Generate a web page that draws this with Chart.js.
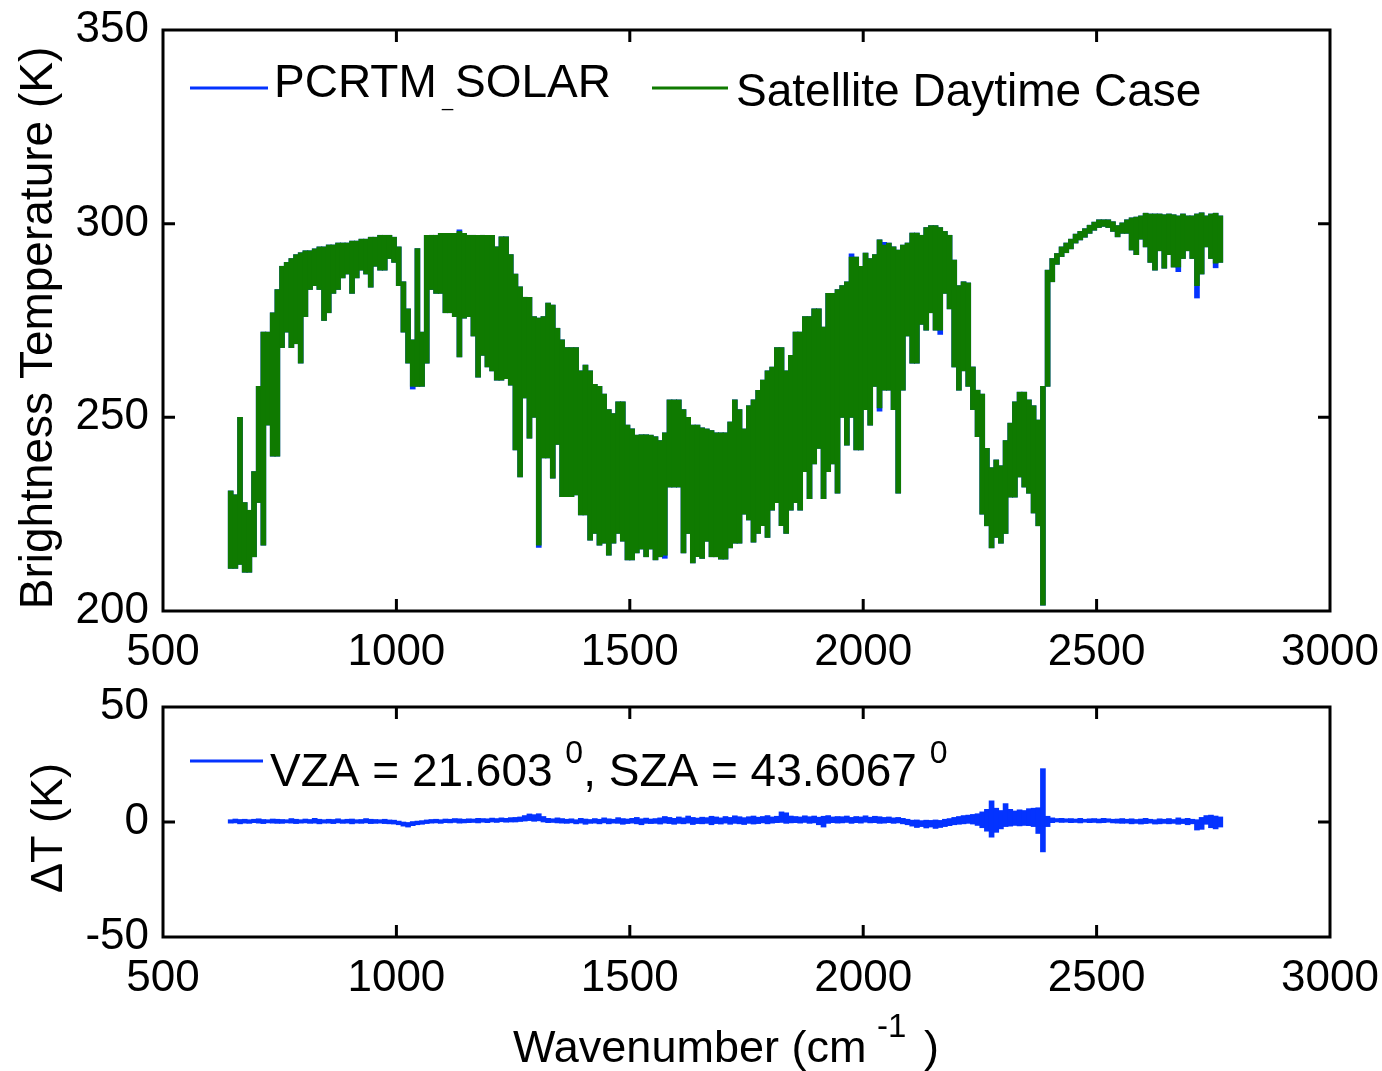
<!DOCTYPE html>
<html><head><meta charset="utf-8">
<script src="https://cdn.jsdelivr.net/npm/chart.js@4.4.1/dist/chart.umd.min.js"></script>
<style>
html,body{margin:0;padding:0;background:#fff;}
#wrap{position:relative;width:1382px;height:1071px;overflow:hidden;background:#fff;}
canvas{position:absolute;left:0;}
</style></head><body>
<div id="wrap">
<canvas id="topChart" width="1382" height="690" style="top:0;width:1382px;height:690px"></canvas>
<canvas id="botChart" width="1382" height="401" style="top:670px;width:1382px;height:401px"></canvas>
</div>
<script>
// ---------- DATA ----------
const wavenumber = [
645,655,665,675,685,695,705,715,725,735,
745,755,765,775,785,795,805,815,825,835,
845,855,865,875,885,895,905,915,925,935,
945,955,965,975,985,995,1005,1015,1025,1035,
1045,1055,1065,1075,1085,1095,1105,1115,1125,1135,
1145,1155,1165,1175,1185,1195,1205,1215,1225,1235,
1245,1255,1265,1275,1285,1295,1305,1315,1325,1335,
1345,1355,1365,1375,1385,1395,1405,1415,1425,1435,
1445,1455,1465,1475,1485,1495,1505,1515,1525,1535,
1545,1555,1565,1575,1585,1595,1605,1615,1625,1635,
1645,1655,1665,1675,1685,1695,1705,1715,1725,1735,
1745,1755,1765,1775,1785,1795,1805,1815,1825,1835,
1845,1855,1865,1875,1885,1895,1905,1915,1925,1935,
1945,1955,1965,1975,1985,1995,2005,2015,2025,2035,
2045,2055,2065,2075,2085,2095,2105,2115,2125,2135,
2145,2155,2165,2175,2185,2195,2205,2215,2225,2235,
2245,2255,2265,2275,2285,2295,2305,2315,2325,2335,
2345,2355,2365,2375,2385,2395,2405,2415,2425,2435,
2445,2455,2465,2475,2485,2495,2505,2515,2525,2535,
2545,2555,2565,2575,2585,2595,2605,2615,2625,2635,
2645,2655,2665,2675,2685,2695,2705,2715,2725,2735,
2745,2755,2765];

// Satellite daytime brightness temperature (K): upper / lower edge per 10 cm-1 bin
const satelliteHi = [
231,230,250,228,226,236,258,272,272,277,
283,289,290,291,292,292.5,293,293,293.5,294,
294,294.5,294.5,295,295,295,295.5,295.5,296,296,
296.5,296.5,297,297,297,296.5,294,285,278,270,
293.6,272,297,297,297,297.5,297.5,297.5,297.5,298,
297.5,297,297,297,297,297,297,294,296.6,296.6,
292,287,283.7,281,281,276,275.6,276,279.5,279,
273,270,268,268,268,262,263.5,262,258.5,258,
256,252,251,254,254,248,247,245.4,245.5,245.5,
245.4,245,244,246,254.5,254.5,254.5,252,250,248,
248,247.3,247,246.6,246,246,246,248.8,254.5,252,
247,253,254.5,257,259.6,262,263,268,268,262,
266,272,272,276,276,278,278,273.3,282,282,
283,284,285,291.4,291.4,289,292.4,291,292,295.8,
294.5,295,294,293.2,294.5,295,297.6,297.6,297,299,
299.5,299.5,299,298,297,290.6,284,285,284.7,263,
257,256,242,237,239,237.5,244,248.5,254,256.5,
256.5,254.5,253,249.3,258,288,291,292.3,294,295,
296,297.3,298,298.7,299.6,300.4,301,301,301,300.5,
299.5,300.2,301,301.5,301.7,302,302.7,302.5,302.5,302.5,
302.3,302.5,302.3,302,302.5,302,302,302.5,302.8,302,
302.5,302.7,302];
const satelliteLo = [
211,211,212,210,210,214,228,217,248,240,
240,268,272,268,269,264,276,283,284,283,
275,277,282,283,286,287,282,286,288,287,
283.6,289,288,288,291,290,284,272,264,258,
258,258,264,283,282,282,277,277,276,265.6,
275.6,276,271,260.4,266,263,262,259.6,259.6,260,
258.3,241.6,234.6,255,244.6,250,217,239.5,239.5,234.3,
243,229.5,229.5,229.5,230,224.8,224.8,218.3,220,217,
217.5,214.4,217.5,220,218,213.2,213.2,215,216,214,
216,213.2,214,214.4,232,232,232,215,220,212.4,
214,213.6,218,214,214,213.4,213.4,216.3,217.5,217.5,
225,223.5,217.8,220,222,219,226,228,222,220,
226,228,226,236,229,238,242,229,236,238,
230.4,250,242.8,250,241.6,241.6,252,248,258,252.4,
257,257,252,230.4,257,271,264,264,274,272.5,
277,272.5,272.5,282,278,263,257,262,258,252,
245,225,222,216.3,219,217.5,220,229.4,229.4,234.6,
232,230.4,225.3,222,201.5,258,285,289.5,291.5,292.5,
293.5,295,295.8,296.5,297.5,298.3,299,299.3,299,298,
296.6,297.5,297.5,293.2,292,296,294,290,288,293,
288.5,292,288.8,288.8,291,293,291,284,287,294,
291,289.8,290];

// PCRTM_SOLAR follows the satellite curve except where it shows beyond it: [wavenumber, value]
const pcrtmLowerPoints = [[1035,257.3],[1305,216.4],[1575,213.6],[2035,251.6],[2165,271.4],[2675,287.6],[2715,280.8],[2755,288.6]];
const pcrtmUpperPoints = [[1975,292.2],[2045,295.2],[1135,298.4]];

// Delta T (K): upper / lower edge per bin
const deltaHi = [
1.0,1.3,1.1,1.2,1.0,1.2,1.4,1.1,1.0,1.3,
1.2,1.1,1.0,1.5,1.2,1.0,1.3,1.1,1.6,1.2,
1.0,1.2,1.1,1.4,1.0,1.2,1.3,1.0,1.1,1.5,
1.2,1.1,1.0,1.2,0.9,0.8,0.4,0.0,-0.2,0.2,
0.4,0.6,0.9,1.1,1.2,1.0,1.3,1.2,1.5,1.4,
1.2,1.4,1.3,1.6,1.5,1.4,1.7,1.5,1.8,1.6,
1.9,2.0,2.2,2.8,3.5,3.2,3.6,2.4,1.6,1.4,
1.8,1.5,1.2,1.4,1.0,1.6,1.3,1.1,1.5,1.2,
1.8,1.4,1.2,1.9,1.5,1.3,1.6,2.0,1.4,1.7,
1.3,1.5,1.8,2.4,2.0,1.6,2.2,1.8,2.6,2.0,
1.7,2.1,1.9,2.5,2.2,1.8,2.4,2.0,2.7,2.3,
1.9,2.3,2.6,2.1,2.4,2.8,2.2,2.5,4.4,4.0,
2.6,2.4,2.2,2.7,2.3,2.6,2.1,2.5,2.8,2.2,
2.4,2.3,2.6,2.0,2.4,2.2,2.7,2.1,2.5,2.3,
2.0,2.2,1.8,2.0,1.6,1.2,0.8,0.9,0.6,0.8,
0.7,0.9,0.7,1.2,1.5,2.0,2.4,2.8,3.0,3.3,
3.6,4.4,5.5,9.2,6.0,5.0,8.0,5.5,4.8,5.3,
5.0,5.8,6.0,6.2,23.2,2.5,1.8,1.5,1.6,1.4,
1.5,1.3,1.6,1.2,1.4,1.5,1.3,1.6,1.4,1.2,
1.3,1.5,1.2,1.4,1.1,1.3,1.6,1.2,1.0,1.4,
1.2,1.5,1.1,1.8,1.3,1.6,1.2,1.0,2.0,2.8,
3.0,2.6,2.2];
const deltaLo = [
-0.5,-0.4,-0.8,-0.5,-0.6,-0.3,-0.5,-0.7,-0.4,-0.5,
-0.6,-0.6,-0.4,-0.5,-0.7,-0.5,-0.4,-0.6,-0.5,-0.8,
-0.5,-0.5,-0.7,-0.4,-0.6,-0.5,-0.8,-0.5,-0.6,-0.4,
-0.7,-0.6,-0.5,-0.7,-0.8,-0.9,-1.2,-1.8,-2.2,-1.6,
-1.2,-1.0,-0.7,-0.5,-0.4,-0.6,-0.3,-0.4,-0.2,-0.5,
-0.4,-0.3,-0.2,-0.4,-0.1,-0.3,0.0,-0.2,0.1,-0.1,
0.0,0.0,0.2,0.4,0.6,0.3,0.5,0.0,-0.3,-0.2,
-0.4,-0.5,-0.6,-0.4,-0.8,-0.5,-1.0,-0.6,-0.5,-0.8,
-0.4,-0.8,-0.5,-0.6,-1.0,-0.7,-0.5,-0.8,-1.2,-0.6,
-0.7,-0.6,-0.9,-0.5,-0.7,-1.0,-0.6,-0.8,-0.5,-1.1,
-0.7,-0.8,-0.6,-1.2,-0.7,-0.9,-0.5,-1.0,-0.6,-0.8,
-1.1,-0.6,-0.9,-0.7,-0.4,-0.8,-0.5,-0.3,-0.2,-0.6,
-0.4,-0.3,-0.5,-0.2,-0.6,-0.4,-1.2,-2.2,-0.6,-0.3,
-0.5,-0.4,-0.2,-0.6,-0.3,-0.5,-0.1,-0.4,-0.3,-0.6,
-0.5,-0.3,-0.6,-0.4,-0.8,-1.2,-1.8,-2.4,-2.0,-2.6,
-2.2,-2.8,-2.4,-2.0,-1.6,-1.2,-1.0,-0.8,-0.6,-0.9,
-1.5,-2.5,-4.0,-6.6,-4.5,-3.0,-2.0,-1.8,-1.5,-1.7,
-1.5,-1.6,-2.0,-5.0,-13.0,-2.0,-0.3,0.0,-0.2,-0.1,
-0.3,-0.2,-0.4,-0.1,-0.3,-0.2,-0.4,-0.3,-0.1,-0.4,
-0.5,-0.6,-0.5,-0.8,-0.6,-0.9,-0.7,-0.5,-0.9,-0.8,
-0.6,-0.8,-0.6,-1.0,-0.7,-1.2,-0.8,-3.5,-3.2,-1.0,
-2.5,-3.0,-2.2];

const xTicks = [500,1000,1500,2000,2500,3000];
const btTicks = [200,250,300,350];
const dtTicks = [-50,0,50];
const seriesNames = ['PCRTM_SOLAR','Satellite Daytime Case'];
const angleText = {vza:'21.603', sza:'43.6067'};

// ---------- STYLE ----------
const BLUE = '#0433ff';
const GREEN = '#0f7a00';
const FONT = '"Liberation Sans", Arial, Helvetica, sans-serif';
const f = (s) => s + 'px ' + FONT;

// build PCRTM series
const pcrtmLo = satelliteLo.slice();
const pcrtmHi = satelliteHi.slice();
pcrtmLowerPoints.forEach(([x,v]) => { const i = wavenumber.indexOf(x); if (i >= 0) pcrtmLo[i] = v; });
pcrtmUpperPoints.forEach(([x,v]) => { const i = wavenumber.indexOf(x); if (i >= 0) pcrtmHi[i] = v; });

// ---------- PLUGINS ----------
const framePlugin = {
  id: 'frame',
  afterDatasetsDraw(chart) {
    const {ctx, chartArea: a, scales: {x, y}} = chart;
    ctx.save();
    ctx.strokeStyle = '#000';
    ctx.lineWidth = 3;
    ctx.lineCap = 'butt';
    ctx.beginPath();
    const L = 12;
    x.ticks.forEach(t => {
      const p = x.getPixelForValue(t.value);
      if (p <= a.left + 2 || p >= a.right - 2) return;
      ctx.moveTo(p, a.bottom); ctx.lineTo(p, a.bottom - L);
      ctx.moveTo(p, a.top); ctx.lineTo(p, a.top + L);
    });
    y.ticks.forEach(t => {
      const p = y.getPixelForValue(t.value);
      if (p <= a.top + 2 || p >= a.bottom - 2) return;
      ctx.moveTo(a.left, p); ctx.lineTo(a.left + L, p);
      ctx.moveTo(a.right, p); ctx.lineTo(a.right - L, p);
    });
    ctx.stroke();
    ctx.lineJoin = 'miter';
    ctx.strokeRect(a.left, a.top, a.right - a.left, a.bottom - a.top);
    ctx.restore();
  }
};

function runs(ctx, x, list) {
  list.forEach(r => {
    ctx.font = r.font;
    if (r.at !== undefined) x = r.at;
    ctx.fillText(r.text, x, r.y);
    x += ctx.measureText(r.text).width;
  });
}

const topText = {
  id: 'topText',
  afterDraw(chart) {
    const ctx = chart.ctx;
    ctx.save();
    ctx.fillStyle = '#000';
    ctx.textBaseline = 'alphabetic';
    // y title
    ctx.save();
    ctx.translate(52, 328);
    ctx.rotate(-Math.PI / 2);
    ctx.textAlign = 'center';
    ctx.font = f(46);
    ctx.fillText('Brightness Temperature (K)', 0, 0);
    ctx.restore();
    // legend
    ctx.lineWidth = 3;
    ctx.strokeStyle = BLUE;
    ctx.beginPath(); ctx.moveTo(190, 88); ctx.lineTo(268, 88); ctx.stroke();
    ctx.strokeStyle = GREEN;
    ctx.beginPath(); ctx.moveTo(652, 88); ctx.lineTo(728, 88); ctx.stroke();
    ctx.textAlign = 'left';
    const parts = seriesNames[0].split('_');
    runs(ctx, 274, [
      {text: parts[0], font: f(46), y: 97},
      {text: '_', font: f(20), y: 106, at: 442},
      {text: parts[1], font: f(46), y: 97, at: 455}
    ]);
    ctx.font = f(46);
    ctx.fillText(seriesNames[1], 736, 106);
    ctx.restore();
  }
};

const OFF = 670; // page y of bottom canvas
const botText = {
  id: 'botText',
  afterDraw(chart) {
    const ctx = chart.ctx;
    ctx.save();
    ctx.fillStyle = '#000';
    ctx.textBaseline = 'alphabetic';
    ctx.save();
    ctx.translate(62, 828 - OFF);
    ctx.rotate(-Math.PI / 2);
    ctx.textAlign = 'center';
    ctx.font = f(45);
    ctx.fillText('\u0394T (K)', 0, 0);
    ctx.restore();
    // legend
    ctx.lineWidth = 3;
    ctx.strokeStyle = BLUE;
    ctx.beginPath(); ctx.moveTo(190, 761 - OFF); ctx.lineTo(263, 761 - OFF); ctx.stroke();
    ctx.textAlign = 'left';
    runs(ctx, 270, [
      {text: 'VZA = ' + angleText.vza + ' ', font: f(46), y: 786 - OFF},
      {text: '0', font: f(32), y: 763 - OFF},
      {text: ', SZA = ' + angleText.sza + ' ', font: f(46), y: 786 - OFF},
      {text: '0', font: f(32), y: 763 - OFF}
    ]);
    // x title
    runs(ctx, 513, [
      {text: 'Wavenumber (cm', font: f(45), y: 1062 - OFF},
      {text: '-1', font: f(33), y: 1037 - OFF, at: 877},
      {text: ')', font: f(45), y: 1062 - OFF, at: 924}
    ]);
    ctx.restore();
  }
};

// ---------- CHARTS ----------
Chart.defaults.font.family = FONT;
const tickFont = {family: FONT, size: 44, lineHeight: 1.0};

function xScale(h) {
  return {
    type: 'linear', min: xTicks[0], max: xTicks[xTicks.length - 1], offset: false,
    grid: {display: false, drawTicks: false}, border: {display: false},
    afterBuildTicks: s => { s.ticks = xTicks.map(v => ({value: v})); },
    afterFit: s => { s.height = h; s.paddingLeft = 0; s.paddingRight = 0; },
    ticks: {font: tickFont, color: '#000', padding: 20, maxRotation: 0, autoSkip: false, callback: v => String(v)}
  };
}
function yScale(ticks) {
  return {
    min: ticks[0], max: ticks[ticks.length - 1],
    grid: {display: false, drawTicks: false}, border: {display: false},
    afterBuildTicks: s => { s.ticks = ticks.map(v => ({value: v})); },
    afterFit: s => { s.width = 163; s.paddingTop = 0; s.paddingBottom = 0; },
    ticks: {font: tickFont, color: '#000', padding: 14, callback: v => String(v)}
  };
}
const common = {
  responsive: false, animation: false, events: [],
  plugins: {legend: {display: false}, tooltip: {enabled: false}}
};

new Chart(document.getElementById('topChart'), {
  type: 'bar',
  data: {datasets: [
    {label: seriesNames[1], data: wavenumber.map((x, i) => ({x, y: [satelliteLo[i], satelliteHi[i]]})),
     backgroundColor: GREEN, barThickness: 5, grouped: false, borderWidth: 0},
    {label: seriesNames[0], data: wavenumber.map((x, i) => ({x, y: [pcrtmLo[i], pcrtmHi[i]]})),
     backgroundColor: BLUE, barThickness: 5, grouped: false, borderWidth: 0}
  ]},
  options: Object.assign({}, common, {
    layout: {padding: {top: 30, right: 52, left: 0, bottom: 0}},
    scales: {x: xScale(690 - 611), y: yScale(btTicks)}
  }),
  plugins: [framePlugin, topText]
});

new Chart(document.getElementById('botChart'), {
  type: 'bar',
  data: {datasets: [
    {label: 'VZA/SZA', data: wavenumber.map((x, i) => ({x, y: [deltaLo[i], deltaHi[i]]})),
     backgroundColor: BLUE, barThickness: 5, grouped: false, borderWidth: 0}
  ]},
  options: Object.assign({}, common, {
    layout: {padding: {top: 707 - OFF, right: 52, left: 0, bottom: 0}},
    scales: {x: xScale(401 - (937 - OFF)), y: yScale(dtTicks)}
  }),
  plugins: [framePlugin, botText]
});
</script>
</body></html>
